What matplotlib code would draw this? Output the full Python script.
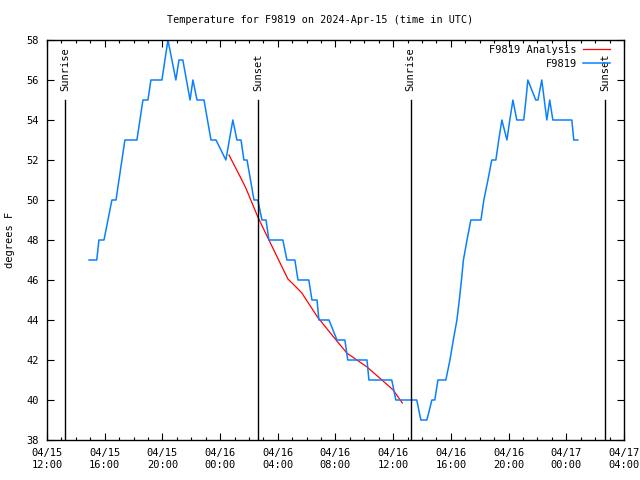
import pandas as pd
import numpy as np
import matplotlib
matplotlib.use('Agg')
from matplotlib import pyplot as plt
import matplotlib.dates as mdates

plt.rcParams['font.family'] = 'DejaVu Sans Mono'
plt.rcParams['font.size'] = 7

# observed temps for F9819
obs_time = ['04-15 14:55', '04-15 15:27', '04-15 15:36', '04-15 15:57', '04-15 16:30', '04-15 16:47',
            '04-15 17:24', '04-15 18:14', '04-15 18:39', '04-15 19:00', '04-15 19:12', '04-15 19:58',
            '04-15 20:23', '04-15 20:56', '04-15 21:09', '04-15 21:25', '04-15 21:55', '04-15 22:07',
            '04-15 22:24', '04-15 22:53', '04-15 23:22', '04-15 23:43', '04-16 00:24', '04-16 00:53',
            '04-16 01:10', '04-16 01:27', '04-16 01:39', '04-16 01:52', '04-16 02:21', '04-16 02:37',
            '04-16 02:54', '04-16 03:11', '04-16 03:23', '04-16 04:21', '04-16 04:38', '04-16 05:11',
            '04-16 05:24', '04-16 06:09', '04-16 06:22', '04-16 06:43', '04-16 06:51', '04-16 07:33',
            '04-16 08:06', '04-16 08:39', '04-16 08:51', '04-16 10:11', '04-16 10:19', '04-16 11:54',
            '04-16 12:11', '04-16 13:38', '04-16 13:55', '04-16 14:20', '04-16 14:41', '04-16 14:53',
            '04-16 15:06', '04-16 15:39', '04-16 15:56', '04-16 16:10', '04-16 16:25', '04-16 16:35',
            '04-16 16:44', '04-16 16:52', '04-16 17:07', '04-16 17:23', '04-16 18:05', '04-16 18:17',
            '04-16 18:34', '04-16 18:50', '04-16 19:07', '04-16 19:19', '04-16 19:32', '04-16 19:53',
            '04-16 20:05', '04-16 20:18', '04-16 20:34', '04-16 21:03', '04-16 21:12', '04-16 21:20',
            '04-16 21:53', '04-16 22:02', '04-16 22:18', '04-16 22:39', '04-16 22:51', '04-16 23:04',
            '04-17 00:23', '04-17 00:31', '04-17 00:48']
obs_temp = [47, 47, 48, 48, 50, 50,
            53, 53, 55, 55, 56, 56,
            58, 56, 57, 57, 55, 56,
            55, 55, 53, 53, 52, 54,
            53, 53, 52, 52, 50, 50,
            49, 49, 48, 48, 47, 47,
            46, 46, 45, 45, 44, 44,
            43, 43, 42, 42, 41, 41,
            40, 40, 39, 39, 40, 40,
            41, 41, 42, 43, 44, 45,
            46, 47, 48, 49, 49, 50,
            51, 52, 52, 53, 54, 53,
            54, 55, 54, 54, 55, 56,
            55, 55, 56, 54, 55, 54,
            54, 53, 53]

# analysis
ana_time = ['04-16 00:37', '04-16 01:22', '04-16 01:47', '04-16 02:37', '04-16 03:23', '04-16 04:42',
            '04-16 05:20', '04-16 05:40', '04-16 06:45', '04-16 07:52', '04-16 08:47', '04-16 10:11',
            '04-16 11:13', '04-16 12:00', '04-16 12:38']
ana_temp = [52.25, 51.2, 50.6, 49.15, 48.0, 46.05,
            45.6, 45.35, 44.15, 43.15, 42.35, 41.65,
            41.0, 40.5, 39.85]

sun_time = ['04-15 13:15', '04-16 02:39', '04-16 13:12', '04-17 02:40']
sun_label = ['Sunrise', 'Sunset', 'Sunrise', 'Sunset']

def todt(lst):
    return pd.to_datetime(['2024-' + s for s in lst])

fig = plt.figure(figsize=(6.4, 4.8), dpi=100)
ax = fig.add_axes([47/640, 40/480, 577/640, 400/480])

ax.plot(todt(ana_time), ana_temp, color='#ff0000', lw=0.9, label='F9819 Analysis')
ax.plot(todt(obs_time), obs_temp, color='#0a80ff', lw=1.1, label='F9819')

for t, lab in zip(todt(sun_time), sun_label):
    ax.plot([t, t], [38, 55], color='black', lw=1.0)
    ax.text(t, 55.45, lab, rotation=90, ha='center', va='bottom', fontsize=7.5)

ax.set_xlim(pd.Timestamp('2024-04-15 12:00'), pd.Timestamp('2024-04-17 04:00'))
ax.set_ylim(38, 58)
ax.set_yticks(np.arange(38, 59, 2))
ax.xaxis.set_major_locator(mdates.HourLocator(byhour=[0, 4, 8, 12, 16, 20]))
ax.xaxis.set_minor_locator(mdates.HourLocator())
ax.xaxis.set_major_formatter(mdates.DateFormatter('%m/%d\n%H:%M'))
ax.tick_params(direction='in', top=True, right=True, length=5, width=0.8, labelsize=7.5, pad=6)
ax.tick_params(which='minor', direction='in', top=True, length=2.5, width=0.8)
for s in ax.spines.values():
    s.set_linewidth(1.0)

ax.set_ylabel('degrees F', fontsize=7.5, va='center')
ax.yaxis.set_label_coords(-0.064, 0.5)
fig.text(0.5, 1 - 20/480, 'Temperature for F9819 on 2024-Apr-15 (time in UTC)',
         ha='center', va='center', fontsize=7.3)

leg = ax.legend(loc='upper right', bbox_to_anchor=(1 - 14/577, 1 - 5/400), frameon=False,
                markerfirst=False, fontsize=7.5, handlelength=2.6, handletextpad=0.6,
                borderaxespad=0, labelspacing=0.35, borderpad=0)
for txt in leg.get_texts():
    txt.set_ha('right')

fig.savefig('out.png', dpi=100)
